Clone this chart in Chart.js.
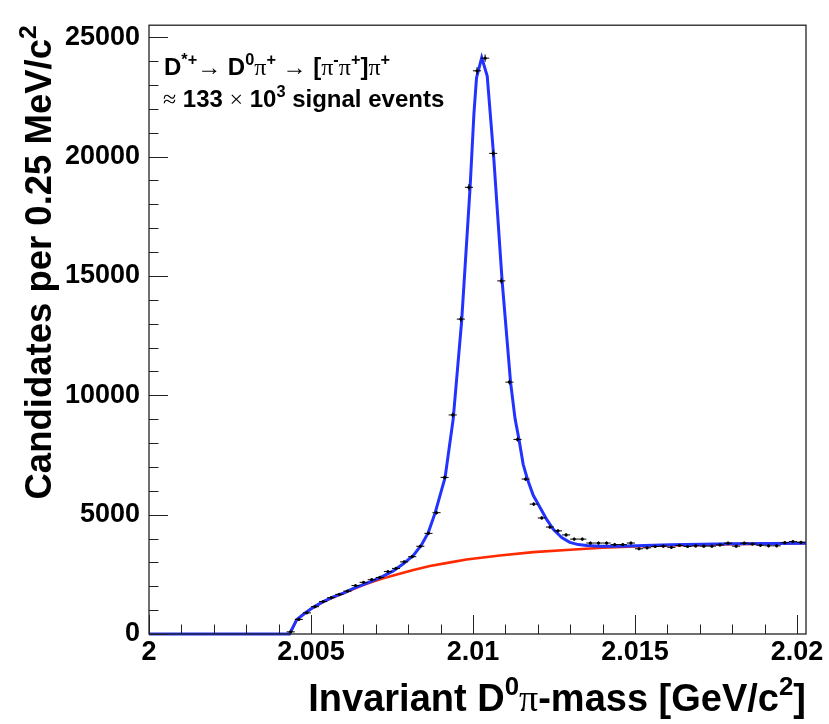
<!DOCTYPE html>
<html>
<head>
<meta charset="utf-8">
<script src="https://cdn.jsdelivr.net/npm/chart.js@4.4.0/dist/chart.umd.min.js"></script>
<style>
  body { margin: 0; background: #fff; }
  canvas { display: block; }
</style>
</head>
<body>
<canvas id="massChart" width="829" height="724"></canvas>
<script>
// histogram bins (centres, GeV) and candidate counts
const binCentres = [
    2.004375, 2.004625, 2.004875, 2.005125, 2.005375, 2.005625, 2.005875, 2.006125,
    2.006375, 2.006625, 2.006875, 2.007125, 2.007375, 2.007625, 2.007875, 2.008125,
    2.008375, 2.008625, 2.008875, 2.009125, 2.009375, 2.009625, 2.009875, 2.010125,
    2.010375, 2.010625, 2.010875, 2.011125, 2.011375, 2.011625, 2.011875, 2.012125,
    2.012375, 2.012625, 2.012875, 2.013125, 2.013375, 2.013625, 2.013875, 2.014125,
    2.014375, 2.014625, 2.014875, 2.015125, 2.015375, 2.015625, 2.015875, 2.016125,
    2.016375, 2.016625, 2.016875, 2.017125, 2.017375, 2.017625, 2.017875, 2.018125,
    2.018375, 2.018625, 2.018875, 2.019125, 2.019375, 2.019625, 2.019875, 2.020125
];
const candidates = [
    90, 612, 886, 1143, 1360, 1523, 1662, 1797,
    2029, 2164, 2274, 2368, 2613, 2748, 3022, 3238,
    3675, 4215, 5080, 6560, 9175, 13190, 18710, 23590,
    24120, 20130, 14790, 10550, 8150, 6490, 5440, 4860,
    4480, 4320, 4150, 3975, 3975, 3810, 3810, 3810,
    3745, 3745, 3810, 3570, 3610, 3665, 3680, 3630,
    3710, 3665, 3690, 3680, 3680, 3730, 3805, 3680,
    3805, 3770, 3715, 3695, 3695, 3825, 3870, 3838
];
const binHalfWidth = 0.000125;

// total fit (signal + background)
const fitMass = [
    2.0, 2.00434, 2.00456, 2.00481, 2.00507, 2.00538, 2.00569, 2.00600, 2.00631, 2.00661,
    2.00692, 2.00723, 2.00754, 2.00785, 2.00816, 2.00841, 2.00862, 2.00883, 2.00914, 2.00939,
    2.00965, 2.00991, 2.01003, 2.01011, 2.01027, 2.01044, 2.01063, 2.01090, 2.01116, 2.01130,
    2.01142, 2.01155, 2.01168, 2.01186, 2.01207, 2.01228, 2.01248, 2.01274, 2.01299, 2.01325,
    2.01351, 2.01392, 2.01454, 2.01505, 2.01608, 2.01800, 2.02028
];
const fitTotal = [
    0, 0, 600, 870, 1115, 1360, 1552, 1715, 1907, 2070,
    2233, 2421, 2642, 2940, 3295, 3728, 4247, 5063, 6562, 9012,
    13095, 18673, 21800, 23300, 24144, 23370, 20171, 14794, 10547, 9012,
    8154, 7105, 6492, 5811, 5300, 4790, 4381, 4042, 3838, 3744,
    3703, 3675, 3680, 3700, 3740, 3775, 3805
];

// background component
const bkgMass = [
    2.00434, 2.00456, 2.00481, 2.00507, 2.00538, 2.00569, 2.00600, 2.00631, 2.00661, 2.00692,
    2.00723, 2.00754, 2.00785, 2.00816, 2.00867, 2.00930, 2.00980, 2.01083, 2.01186, 2.01300,
    2.01400, 2.01500, 2.01600, 2.01800, 2.02028
];
const bkgValues = [
    0, 600, 870, 1110, 1350, 1540, 1700, 1880, 2050, 2200,
    2330, 2450, 2570, 2680, 2846, 3000, 3120, 3290, 3430, 3530,
    3610, 3665, 3710, 3765, 3805
];

const xTicks = [2.0, 2.005, 2.01, 2.015, 2.02];
const xTickLabels = ['2', '2.005', '2.01', '2.015', '2.02'];
const yTicks = [0, 5000, 10000, 15000, 20000, 25000];
const yTickLabels = ['0', '5000', '10000', '15000', '20000', '25000'];

const SANS = '"Liberation Sans", Arial, Helvetica, sans-serif';
const SERIF = '"Liberation Serif", "DejaVu Serif", serif';

let toPoints = (xs, ys) => xs.map((x, i) => ({x: x, y: ys[i]}));

// draw a line of text with superscripts and symbol glyphs
let richText = (ctx, parts, x, y, size, align, angle) => {
    let segs = parts.map(p => {
        let [text, kind] = Array.isArray(p) ? p : [p, ''];
        let sz = kind === 'sup' ? size * 0.68 : size;
        let font = kind === 'sym' ? sz + 'px ' + SERIF : 'bold ' + sz + 'px ' + SANS;
        ctx.font = font;
        return {text, font, w: ctx.measureText(text).width, rise: kind === 'sup' ? size * 0.42 : 0};
    });
    let total = segs.reduce((s, g) => s + g.w, 0);
    ctx.save();
    ctx.translate(x, y);
    ctx.rotate(angle || 0);
    ctx.fillStyle = '#000';
    ctx.textBaseline = 'alphabetic';
    ctx.textAlign = 'left';
    let pos = align === 'right' ? -total : 0;
    segs.forEach(g => {
        ctx.font = g.font;
        ctx.fillText(g.text, pos, -g.rise);
        pos += g.w;
    });
    ctx.restore();
}

// ROOT-like frame with inward ticks, error bars and labels
const rootStyle = {
    id: 'rootStyle',
    afterDatasetsDraw(chart) {
        let {ctx, scales: {x, y}} = chart;
        ctx.save();
        ctx.strokeStyle = '#000';
        ctx.lineWidth = 1;
        binCentres.forEach((m, i) => {
            let n = candidates[i];
            let err = Math.sqrt(n);
            let py = y.getPixelForValue(n);
            let px = x.getPixelForValue(m);
            ctx.beginPath();
            ctx.moveTo(x.getPixelForValue(m - binHalfWidth), py);
            ctx.lineTo(x.getPixelForValue(m + binHalfWidth), py);
            ctx.moveTo(px, y.getPixelForValue(n - err));
            ctx.lineTo(px, y.getPixelForValue(n + err));
            ctx.stroke();
        });
        ctx.restore();
    },
    afterDraw(chart) {
        let {ctx, chartArea: a, scales: {x, y}} = chart;
        ctx.save();
        ctx.strokeStyle = '#222';
        ctx.lineWidth = 1.3;
        ctx.strokeRect(a.left, a.top, a.right - a.left, a.bottom - a.top);
        ctx.lineWidth = 1;
        ctx.beginPath();
        for (let i = 0; i <= 20; i++) {
            let px = Math.round(x.getPixelForValue(2.0 + i * 0.001)) + 0.5;
            let len = i % 5 === 0 ? 19 : 9.5;
            ctx.moveTo(px, a.bottom);
            ctx.lineTo(px, a.bottom - len);
        }
        for (let i = 0; i <= 25; i++) {
            let py = Math.round(y.getPixelForValue(i * 1000)) + 0.5;
            let len = i % 5 === 0 ? 19 : 9.5;
            ctx.moveTo(a.left, py);
            ctx.lineTo(a.left + len, py);
        }
        ctx.stroke();
        ctx.restore();

        richText(ctx, ['Invariant D', ['0', 'sup'], ['π', 'sym'], '-mass [GeV/c', ['2', 'sup'], ']'],
            a.right, 711, 38, 'right');
        richText(ctx, ['Candidates per 0.25 MeV/c', ['2', 'sup']],
            51, a.top, 36.5, 'right', -Math.PI / 2);
        richText(ctx, ['D', ['*+', 'sup'], ['→', 'sym'], ' D', ['0', 'sup'], ['π', 'sym'], ['+', 'sup'], ' ',
            ['→', 'sym'], ' [', ['π', 'sym'], ['-', 'sup'], ['π', 'sym'], ['+', 'sup'], ']', ['π', 'sym'], ['+', 'sup']],
            164, 75, 24, 'left');
        richText(ctx, [['≈', 'sym'], ' 133 ', ['×', 'sym'], ' 10', ['3', 'sup'], ' signal events'],
            163, 107, 24, 'left');
    }
};

let chart = new Chart(document.getElementById('massChart').getContext('2d'), {
    type: 'line',
    data: {
        datasets: [
            {
                label: 'fit',
                data: toPoints(fitMass, fitTotal),
                borderColor: '#2233ff',
                borderWidth: 3,
                pointRadius: 0,
                tension: 0,
                clip: 3,
                order: 1
            },
            {
                label: 'background',
                data: toPoints(bkgMass, bkgValues),
                borderColor: '#ff2a00',
                borderWidth: 2.6,
                pointRadius: 0,
                tension: 0,
                clip: 3,
                order: 2
            },
            {
                label: 'data',
                data: toPoints(binCentres, candidates),
                showLine: false,
                pointRadius: 1.6,
                pointBackgroundColor: '#000',
                pointBorderWidth: 0,
                order: 0
            }
        ]
    },
    options: {
        responsive: false,
        animation: false,
        layout: { padding: { top: 9, right: 23, left: 0, bottom: 0 } },
        plugins: {
            legend: { display: false },
            tooltip: { enabled: false }
        },
        scales: {
            x: {
                type: 'linear',
                min: 2.0,
                max: 2.02028,
                grid: { display: false, drawTicks: false },
                border: { display: false },
                afterBuildTicks: s => { s.ticks = xTicks.map(v => ({value: v})); },
                afterFit: s => { s.height = 90; },
                ticks: {
                    autoSkip: false,
                    maxRotation: 0,
                    padding: 2,
                    color: '#000',
                    font: { family: SANS, size: 27, weight: 'bold' },
                    callback: (v, i) => xTickLabels[i]
                }
            },
            y: {
                min: 0,
                max: 25500,
                grid: { display: false, drawTicks: false },
                border: { display: false },
                afterBuildTicks: s => { s.ticks = yTicks.map(v => ({value: v})); },
                afterFit: s => { s.width = 149; },
                ticks: {
                    autoSkip: false,
                    padding: 9,
                    color: '#000',
                    font: { family: SANS, size: 27, weight: 'bold' },
                    callback: (v, i) => yTickLabels[i]
                }
            }
        }
    },
    plugins: [rootStyle]
});
</script>
</body>
</html>
